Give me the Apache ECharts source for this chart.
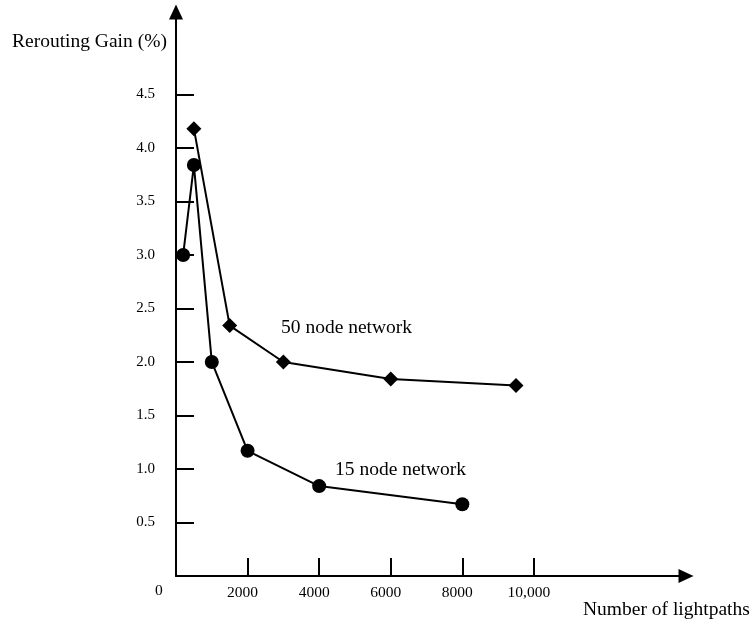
<!DOCTYPE html>
<html><head><meta charset="utf-8">
<script src="https://cdn.jsdelivr.net/npm/echarts@6/dist/echarts.min.js"></script>
<style>html,body{margin:0;padding:0;background:#fff}#c{width:753px;height:623px}</style>
</head><body><div id="c"></div>
<script>
const xTicks = [2000, 4000, 6000, 8000, 10000];
const xTickLabels = ['2000', '4000', '6000', '8000', '10,000'];
const yTicks = [0.5, 1.0, 1.5, 2.0, 2.5, 3.0, 3.5, 4.0, 4.5];
const net15X = [200, 500, 1000, 2000, 4000, 8000];
const net15Y = [3.0, 3.84, 2.0, 1.17, 0.84, 0.67];
const net50X = [500, 1500, 3000, 6000, 9500];
const net50Y = [4.18, 2.34, 2.0, 1.84, 1.78];

const FONT = '"Liberation Serif", "Times New Roman", serif';
const chart = echarts.init(document.getElementById('c'));
const axisCommon = {
  axisLine: {show: true, lineStyle: {color: '#000', width: 2}, symbol: ['none', 'triangle'], symbolSize: [14, 15]},
  splitLine: {show: false},
  axisTick: {show: true, inside: true, length: 18, lineStyle: {color: '#000', width: 2}},
};
chart.setOption({
  animation: false,
  grid: {left: 176, top: 12, right: 67, bottom: 47},
  xAxis: Object.assign({}, axisCommon, {
    type: 'value', min: 0, max: 14250,
    axisTick: Object.assign({}, axisCommon.axisTick, {customValues: xTicks}),
    axisLabel: {customValues: xTicks, color: '#000', fontFamily: FONT, fontSize: 15.5, margin: 9,
      padding: [0, 10, 0, 0],
      formatter: v => xTickLabels[xTicks.indexOf(v)] || ''}
  }),
  yAxis: Object.assign({}, axisCommon, {
    type: 'value', min: 0, max: 5.27,
    axisTick: Object.assign({}, axisCommon.axisTick, {customValues: yTicks}),
    axisLabel: {customValues: yTicks, color: '#000', fontFamily: FONT, fontSize: 15, margin: 21,
      formatter: v => v.toFixed(1)}
  }),
  series: [
    {type: 'line', data: net15X.map((x, i) => [x, net15Y[i]]), symbol: 'circle', symbolSize: 14,
     lineStyle: {color: '#000', width: 2}, itemStyle: {color: '#000'}},
    {type: 'line', data: net50X.map((x, i) => [x, net50Y[i]]), symbol: 'diamond', symbolSize: [15, 15],
     lineStyle: {color: '#000', width: 2}, itemStyle: {color: '#000'}}
  ],
  graphic: [
    {type: 'text', left: 12, top: 32, style: {text: 'Rerouting Gain (%)', font: '19.5px ' + FONT, fill: '#000'}},
    {type: 'text', left: 155, top: 583, style: {text: '0', font: '15.5px ' + FONT, fill: '#000'}},
    {type: 'text', left: 281, top: 318, style: {text: '50 node network', font: '19.5px ' + FONT, fill: '#000'}},
    {type: 'text', left: 335, top: 460, style: {text: '15 node network', font: '19.5px ' + FONT, fill: '#000'}},
    {type: 'text', left: 583, top: 600, style: {text: 'Number of lightpaths', font: '19.5px ' + FONT, fill: '#000'}}
  ]
});
</script></body></html>
